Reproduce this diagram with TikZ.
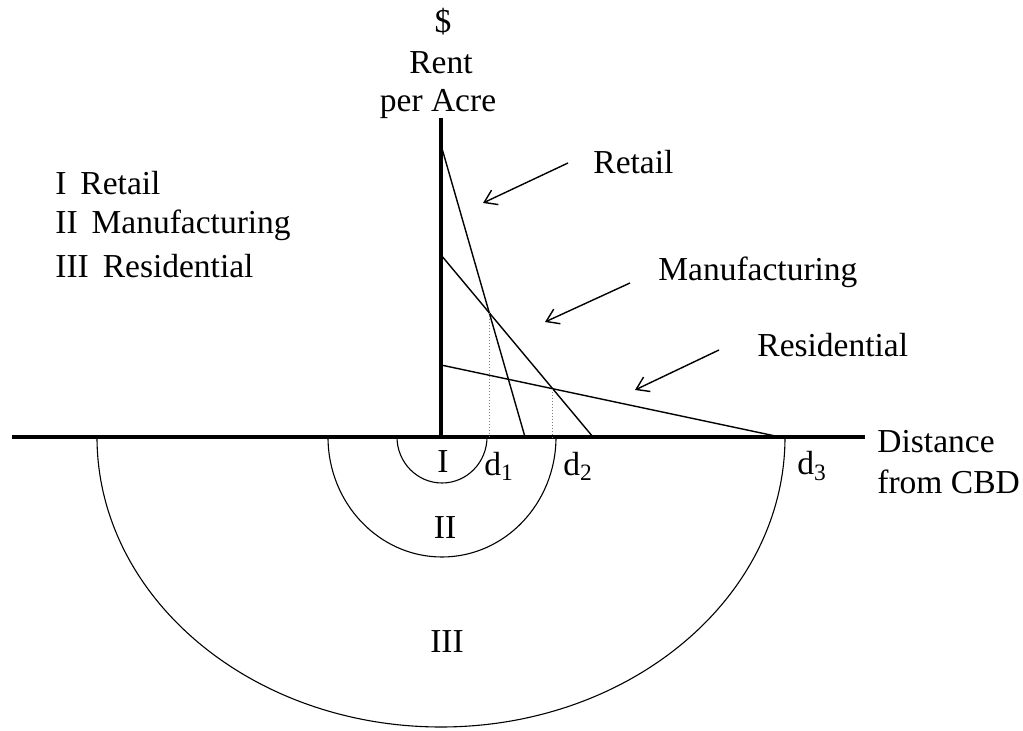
\documentclass[tikz,border=0pt]{standalone}
\usepackage{fontspec}
\setmainfont{Liberation Serif}
\usetikzlibrary{arrows.meta}
\begin{document}
\begin{tikzpicture}[x=0.5pt,y=-0.5pt,
  lbl/.style={inner sep=0pt,font=\fontsize{16.75pt}{20pt}\selectfont},
  axisline/.style={line width=2pt},
  rentline/.style={line width=0.7pt},
  zone/.style={line width=0.55pt},
  guide/.style={line width=0.5pt,densely dotted,gray},
  pointer/.style={line width=0.7pt,-{Straight Barb[length=6pt,width=8pt]}}]
\useasboundingbox (0,0) rectangle (1023,731);
% axes
\coordinate (O) at (441,437);
\coordinate (Ytop) at (441,118);
\coordinate (Xl) at (12,437);
\coordinate (Xr) at (865,437);
\draw[axisline] (Xl) -- (Xr);
\draw[axisline] (O) -- (Ytop);
% rent lines
\coordinate (Rt) at (441,145);
\coordinate (Rb) at (525,437);
\coordinate (Mt) at (441,255);
\coordinate (Mb) at (593,437);
\coordinate (St) at (441,365);
\coordinate (Sb) at (780,437);
\draw[rentline] (Rt) -- (Rb);
\draw[rentline] (Mt) -- (Mb);
\draw[rentline] (St) -- (Sb);
\coordinate (I1) at (intersection of Rt--Rb and Mt--Mb);
\coordinate (I2) at (intersection of Mt--Mb and St--Sb);
\draw[guide] (I1) -- (I1 |- O);
\draw[guide] (I2) -- (I2 |- O);
% zones
\draw[zone] (O) ++(-44,0) arc[start angle=180,end angle=360,x radius=22.5pt,y radius=23pt];
\draw[zone] (O) ++(-113,0) arc[start angle=180,end angle=360,x radius=57pt,y radius=60pt];
\draw[zone] (O) ++(-344,0) arc[start angle=180,end angle=360,x radius=172pt,y radius=145pt];
% axis labels
\node[lbl] (dollar) at (443,22) {\$};
\node[lbl] (rent) at (441,63) {Rent};
\node[lbl] (peracre) at (438,104) {per Acre};
\node[lbl,anchor=west] (dist) at (877,442) {Distance};
\node[lbl,anchor=west] (cbd) at (877,482) {from CBD};
% legend
\node[lbl,anchor=west] (leg1) at (55,183) {I\, Retail};
\node[lbl,anchor=west] (leg2) at (55,225) {II\, Manufacturing};
\node[lbl,anchor=west] (leg3) at (55,266) {III\, Residential};
% curve labels and pointers
\node[lbl,anchor=west] (tRet) at (593,162) {Retail};
\node[lbl,anchor=west] (tMan) at (658,272) {Manufacturing};
\node[lbl,anchor=west] (tRes) at (757,345) {Residential};
\coordinate (pR1) at (568,163);
\coordinate (pR2) at (483,203);
\coordinate (pM1) at (630,283);
\coordinate (pM2) at (545,322);
\coordinate (pS1) at (719,350);
\coordinate (pS2) at (635,390);
\draw[pointer] (pR1) -- (pR2);
\draw[pointer] (pM1) -- (pM2);
\draw[pointer] (pS1) -- (pS2);
% zone labels
\node[lbl] (zI) at (443,462) {I};
\node[lbl] (zII) at (445,528) {II};
\node[lbl] (zIII) at (447,642) {III};
\node[lbl,anchor=west] (d1) at (484,466) {d\textsubscript{1}};
\node[lbl,anchor=west] (d2) at (563,466) {d\textsubscript{2}};
\node[lbl,anchor=west] (d3) at (797,466) {d\textsubscript{3}};
\end{tikzpicture}
\end{document}
